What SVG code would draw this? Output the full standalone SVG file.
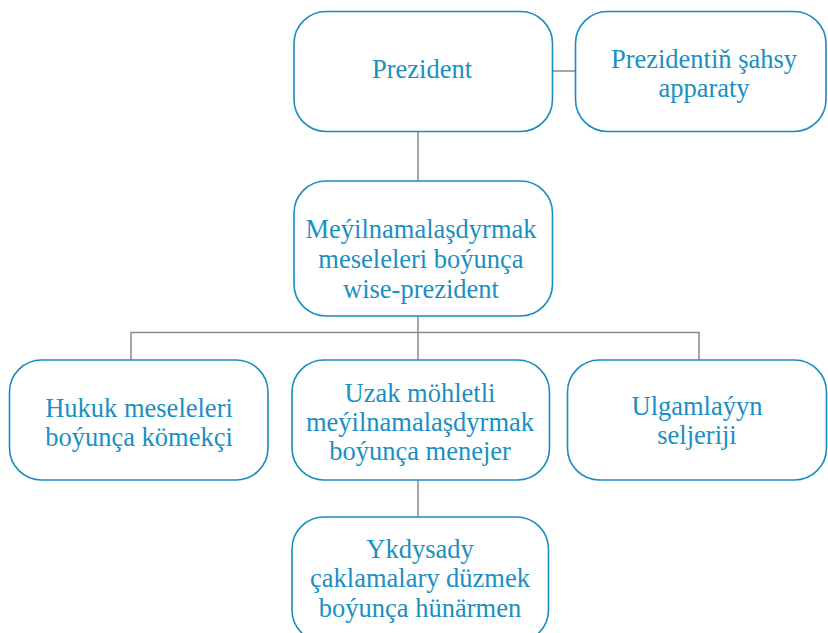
<svg xmlns="http://www.w3.org/2000/svg" width="828" height="633" viewBox="0 0 828 633">
<style>
.box{fill:#fff;stroke:#1a8cc0;stroke-width:1.6}
.t{font-family:"Liberation Serif","Times New Roman",serif;font-size:26.5px;fill:#1a8fc3;text-anchor:middle}
.c{stroke:#8a8a8a;stroke-width:1.5;fill:none}
</style>
<rect width="828" height="633" fill="#fff"/>
<g id="connectors">
<path class="c" d="M552.5 71H575.5"/>
<path class="c" d="M418 131.5V181"/>
<path class="c" d="M418 316V360"/>
<path class="c" d="M131 360V332.5H699V360"/>
<path class="c" d="M418 480V517"/>
</g>
<g id="prezident">
<rect class="box" x="294" y="11.5" width="258.5" height="120" rx="32"/>
<text class="t" x="422" y="78">Prezident</text>
</g>
<g id="apparat">
<rect class="box" x="575.5" y="11.5" width="250.5" height="120" rx="32"/>
<text class="t" x="704" y="68">Prezidentiň şahsy</text>
<text class="t" x="704" y="97">apparaty</text>
</g>
<g id="wise-prezident">
<rect class="box" x="294" y="181" width="258.5" height="135" rx="32"/>
<text class="t" x="421" y="238">Meýilnamalaşdyrmak</text>
<text class="t" x="421" y="268">meseleleri boýunça</text>
<text class="t" x="421" y="298">wise-prezident</text>
</g>
<g id="hukuk">
<rect class="box" x="9.5" y="360" width="258.5" height="120" rx="32"/>
<text class="t" x="139" y="416.5">Hukuk meseleleri</text>
<text class="t" x="139" y="445.5">boýunça kömekçi</text>
</g>
<g id="menejer">
<rect class="box" x="292" y="360" width="257.5" height="120" rx="32"/>
<text class="t" x="420" y="401.5">Uzak möhletli</text>
<text class="t" x="420" y="431">meýilnamalaşdyrmak</text>
<text class="t" x="420" y="460">boýunça menejer</text>
</g>
<g id="ulgamlayyn">
<rect class="box" x="567.5" y="360" width="259" height="120" rx="32"/>
<text class="t" x="697" y="415">Ulgamlaýyn</text>
<text class="t" x="697" y="443.5">seljeriji</text>
</g>
<g id="hunarmen">
<rect class="box" x="292" y="517" width="256.5" height="125" rx="32"/>
<text class="t" x="420" y="558">Ykdysady</text>
<text class="t" x="420" y="587">çaklamalary düzmek</text>
<text class="t" x="420" y="616.5">boýunça hünärmen</text>
</g>
</svg>
